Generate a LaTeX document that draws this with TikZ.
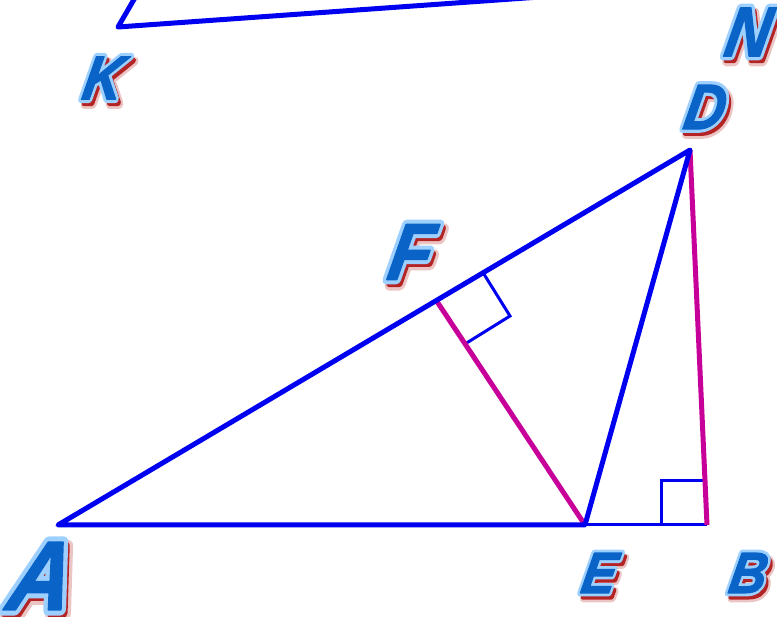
\documentclass[tikz,border=0pt]{standalone}
\usepackage{fontspec}
\setmainfont{Liberation Sans}
\newfontface\fillface{Liberation Sans Bold Italic}[FakeBold=2]
\newfontface\outface{Liberation Sans Bold Italic}[FakeBold=12]
\newfontface\shface{Liberation Sans Bold Italic}[FakeBold=9]
\newfontface\shfaceb{Liberation Sans Bold Italic}[FakeBold=15]
\definecolor{lineblue}{HTML}{0000F0}
\definecolor{linemag}{HTML}{C8009A}
\definecolor{fillb}{HTML}{0A64C8}
\definecolor{outl}{HTML}{9DD0FF}
\definecolor{shred}{HTML}{B42424}
\definecolor{shsoft}{HTML}{EBC4C4}
\newcommand\fancytext[2]{% size, letter
  \fontsize{#1}{#1}%
  \rlap{\kern5pt\raisebox{-5pt}[0pt][0pt]{\shfaceb\textcolor{shsoft}{#2}}}%
  \rlap{\kern4pt\raisebox{-4pt}[0pt][0pt]{\shface\textcolor{shred}{#2}}}%
  \rlap{\outface\textcolor{outl}{#2}}%
  {\fillface\textcolor{fillb}{#2}}}
\tikzset{
  lbl/.style={inner sep=0pt, xslant=0.18, xscale=0.88, transform shape},
  thickline/.style={line width=5pt, line cap=round, line join=round},
  thinline/.style={line width=3pt, line join=miter},
}
\begin{document}
\begin{tikzpicture}[x=1pt,y=-1pt,line join=round]
\useasboundingbox (0,0) rectangle (777,617);
\clip (0,0) rectangle (777,617);
% points
\coordinate (A) at (58,525);
\coordinate (E) at (585,525);
\coordinate (B) at (707,525);
\coordinate (D) at (690,150);
\coordinate (F) at (436,300);
\coordinate (K) at (118,27);
\coordinate (K1) at (136,-4);
\coordinate (K2) at (540,-3);
\coordinate (FA) at (482,271);
\coordinate (FC) at (510,316);
\coordinate (FE) at (465,344);
\coordinate (BA) at (661,481);
\coordinate (BC) at (707,481);
\coordinate (BE) at (661,525);
% lines
\draw[lineblue, thickline] (K1) -- (K) -- (K2);
\draw[lineblue, thinline] (E) -- (B);
\draw[lineblue, thinline] (FA) -- (FC) -- (FE);
\draw[lineblue, thinline] (BE) -- (BA) -- (BC);
\draw[linemag, thickline, line cap=butt] (F) -- (E);
\draw[linemag, thickline, line cap=butt] (D) -- (B);
\draw[lineblue, thickline] (A) -- (E) -- (D) -- cycle;
% labels
\node[lbl] (lK) at (104,78) {\fancytext{62}{K}};
\node[lbl] (lN) at (749,32) {\fancytext{70}{N}};
\node[lbl] (lD) at (706,107) {\fancytext{64}{D}};
\node[lbl] (lF) at (412,252) {\fancytext{80}{F}};
\node[lbl] (lE) at (600,573) {\fancytext{58}{E}};
\node[lbl] (lB) at (749,573) {\fancytext{58}{B}};
\node[lbl] (lA) at (42,576) {\fancytext{98}{A}};
\end{tikzpicture}
\end{document}
